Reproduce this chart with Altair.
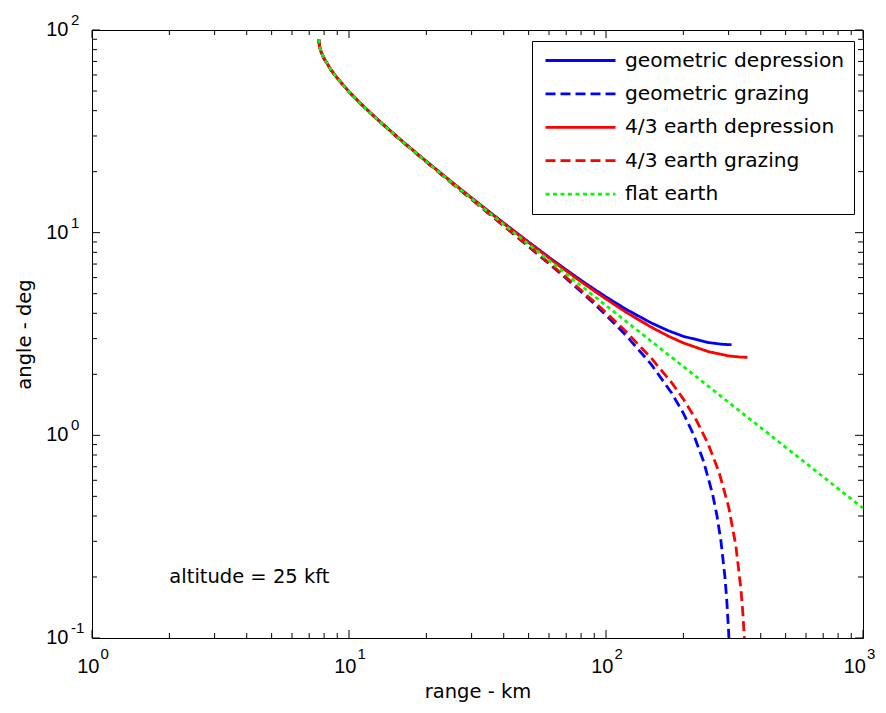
import altair as alt
import pandas as pd

# ---------------- data ----------------
series_names = ["geometric depression", "geometric grazing",
                "4/3 earth depression", "4/3 earth grazing", "flat earth"]
series_colors = ["#0000ff", "#0000ff", "#ff0000", "#ff0000", "#00ff00"]
series_dashes = [[1, 0], [10, 5], [1, 0], [10, 5], [4, 3.5]]

geo_dep_range = [7.62, 7.7, 7.8, 8, 8.5, 9, 10, 11, 12, 13, 15, 17, 20, 25, 30, 35, 40,
                 50, 60, 70, 80, 90, 100, 120, 150, 175, 200, 250, 280, 300, 308]
geo_dep_angle = [90, 81.73, 77.67, 72.27, 63.71, 57.87, 49.67, 43.88, 39.46, 35.92, 30.59,
                 26.70, 22.48, 17.85, 14.84, 12.73, 11.16, 8.99, 7.56, 6.56, 5.82, 5.26,
                 4.82, 4.18, 3.585, 3.281, 3.08, 2.87, 2.817, 2.803, 2.801]

geo_graz_range = [7.62, 7.7, 7.8, 8, 8.5, 9, 10, 11, 12, 13, 15, 17, 20, 25, 30, 35, 40,
                  50, 60, 70, 80, 90, 100, 120, 150, 180, 200, 220, 240, 260, 270, 280,
                  290, 295, 300, 302]
geo_graz_angle = [90, 81.7, 77.6, 72.2, 63.68, 57.83, 49.6, 43.82, 39.39, 35.84, 30.47,
                  26.56, 22.31, 17.64, 14.58, 12.42, 10.80, 8.54, 7.03, 5.94, 5.11, 4.454,
                  3.92, 3.10, 2.24, 1.618, 1.285, 0.9965, 0.741, 0.511, 0.404, 0.301,
                  0.2024, 0.1544, 0.1072, 0.0886]

e43_dep_range = [7.62, 7.7, 7.8, 8, 8.5, 9, 10, 11, 12, 13, 15, 17, 20, 25, 30, 35, 40,
                 50, 60, 70, 80, 90, 100, 120, 150, 175, 200, 250, 300, 330, 355]
e43_dep_angle = [90, 81.73, 77.67, 72.27, 63.71, 57.86, 49.66, 43.87, 39.45, 35.91, 30.58,
                 26.68, 22.46, 17.83, 14.81, 12.69, 11.11, 8.93, 7.50, 6.48, 5.73, 5.159,
                 4.71, 4.04, 3.417, 3.085, 2.857, 2.589, 2.466, 2.435, 2.426]

e43_graz_range = [7.62, 7.7, 7.8, 8, 8.5, 9, 10, 11, 12, 13, 15, 17, 20, 25, 30, 35, 40,
                  50, 60, 70, 80, 90, 100, 120, 150, 180, 200, 225, 250, 275, 300, 320,
                  335, 340, 345, 347]
e43_graz_angle = [90, 81.7, 77.6, 72.22, 63.69, 57.84, 49.61, 43.83, 39.40, 35.85, 30.49,
                  26.58, 22.33, 17.67, 14.62, 12.46, 10.85, 8.60, 7.10, 6.015, 5.197, 4.555,
                  4.034, 3.237, 2.407, 1.820, 1.510, 1.183, 0.904, 0.661, 0.444, 0.286,
                  0.174, 0.138, 0.1026, 0.0886]

flat_range = [7.62, 7.7, 7.8, 8, 8.5, 9, 10, 11, 12, 13, 15, 17, 20, 25, 30, 35, 40,
              50, 60, 70, 80, 90, 100, 120, 150, 175, 200, 250, 300, 400, 500, 600,
              700, 800, 1000]
flat_angle = [90, 81.73, 77.67, 72.26, 63.70, 57.85, 49.64, 43.85, 39.42, 35.88, 30.53,
              26.63, 22.40, 17.75, 14.71, 12.575, 10.98, 8.767, 7.297, 6.249, 5.466, 4.857,
              4.370, 3.641, 2.912, 2.496, 2.184, 1.747, 1.455, 1.092, 0.873, 0.728,
              0.624, 0.546, 0.437]

x_tick_vals = [1, 10, 100, 1000]
x_tick_exp = ["0", "1", "2", "3"]
y_tick_vals = [0.1, 1, 10, 100]
y_tick_exp = ["-1", "0", "1", "2"]
x_minor = [2, 3, 4, 5, 6, 7, 8, 9, 20, 30, 40, 50, 60, 70, 80, 90,
           200, 300, 400, 500, 600, 700, 800, 900]
y_minor = [0.2, 0.3, 0.4, 0.5, 0.6, 0.7, 0.8, 0.9, 2, 3, 4, 5, 6, 7, 8, 9,
           20, 30, 40, 50, 60, 70, 80, 90]

annotation_text = ["altitude = 25 kft"]
annotation_x = [2]
annotation_y = [0.2]

# ---------------- chart ----------------
W, H = 771, 608
TXT_FONT = "DejaVu Sans"
NUM_FONT = "Liberation Sans"

xscale = alt.Scale(type="log", domain=[1, 1000], nice=False)
yscale = alt.Scale(type="log", domain=[0.1, 100], nice=False)
xaxis = alt.Axis(title="range - km", labels=False, ticks=False, domain=False, grid=False,
                 titlePadding=44, titleFont=TXT_FONT, titleFontSize=19.5,
                 titleFontWeight="normal", titleColor="black")
yaxis = alt.Axis(title="angle - deg", labels=False, ticks=False, domain=False, grid=False,
                 titlePadding=58, titleFont=TXT_FONT, titleFontSize=19.5,
                 titleFontWeight="normal", titleColor="black")


def X(field):
    return alt.X(f"{field}:Q", scale=xscale, axis=xaxis)


def Y(field):
    return alt.Y(f"{field}:Q", scale=yscale, axis=yaxis)


leg = alt.Legend(title=None, orient="none", legendX=440, legendY=11, direction="vertical",
                 symbolType="stroke", symbolSize=4900, symbolStrokeWidth=2.8,
                 symbolOffset=3,
                 clipHeight=21, rowPadding=12.4, padding=9,
                 labelFont=TXT_FONT, labelFontSize=20.2, labelColor="black",
                 labelOffset=8, labelLimit=400,
                 strokeColor="black", fillColor="white")
color = alt.Color("series:N", scale=alt.Scale(domain=series_names, range=series_colors),
                  sort=series_names, legend=leg)
dash = alt.StrokeDash("series:N", scale=alt.Scale(domain=series_names, range=series_dashes),
                      sort=series_names, legend=leg)

series_data = [
    (series_names[0], geo_dep_range, geo_dep_angle),
    (series_names[1], geo_graz_range, geo_graz_angle),
    (series_names[2], e43_dep_range, e43_dep_angle),
    (series_names[3], e43_graz_range, e43_graz_angle),
    (series_names[4], flat_range, flat_angle),
]
lines = []
for name, rr, aa in series_data:
    df = pd.DataFrame({"range": rr, "angle": aa, "series": name})
    lines.append(
        alt.Chart(df).mark_line(strokeWidth=2.8, clip=True, strokeCap="butt")
        .encode(x=X("range"), y=Y("angle"), color=color, strokeDash=dash)
    )

# inward ticks on all four sides
MAJ, MIN = 8, 5
xmaj = pd.DataFrame({"v": x_tick_vals})
xmin = pd.DataFrame({"v": x_minor})
ymaj = pd.DataFrame({"v": y_tick_vals})
ymin = pd.DataFrame({"v": y_minor})
ticks = []
for d, L in [(xmaj, MAJ), (xmin, MIN)]:
    ticks.append(alt.Chart(d).mark_rule(color="black", strokeWidth=1)
                 .encode(x=X("v"), y=alt.value(H), y2=alt.value(H - L)))
    ticks.append(alt.Chart(d).mark_rule(color="black", strokeWidth=1)
                 .encode(x=X("v"), y=alt.value(0), y2=alt.value(L)))
for d, L in [(ymaj, MAJ), (ymin, MIN)]:
    ticks.append(alt.Chart(d).mark_rule(color="black", strokeWidth=1)
                 .encode(y=Y("v"), x=alt.value(0), x2=alt.value(L)))
    ticks.append(alt.Chart(d).mark_rule(color="black", strokeWidth=1)
                 .encode(y=Y("v"), x=alt.value(W), x2=alt.value(W - L)))

# tick labels 10^n (the last x label is nudged left so it stays on the page)
xlab = pd.DataFrame({"v": x_tick_vals, "e": x_tick_exp})
ylab = pd.DataFrame({"v": y_tick_vals, "e": y_tick_exp})
labels = []
for flt, bdx, edx in [("datum.v < 1000", 7.5, 8.5), ("datum.v >= 1000", 3, 4)]:
    labels.append(
        alt.Chart(xlab).transform_filter(flt)
        .mark_text(text="10", align="right", baseline="alphabetic", dx=bdx,
                   font=NUM_FONT, fontSize=20, color="black")
        .encode(x=X("v"), y=alt.value(H + 35)))
    labels.append(
        alt.Chart(xlab).transform_filter(flt)
        .mark_text(align="left", baseline="alphabetic", dx=edx,
                   font=NUM_FONT, fontSize=15, color="black")
        .encode(x=X("v"), y=alt.value(H + 20.6), text="e:N"))
labels += [
    alt.Chart(ylab).mark_text(text="10", align="right", baseline="middle",
                              font=NUM_FONT, fontSize=20, color="black")
    .encode(y=Y("v"), x=alt.value(-23.5)),
    alt.Chart(ylab).mark_text(align="left", baseline="alphabetic", dy=-5,
                              font=NUM_FONT, fontSize=15, color="black")
    .encode(y=Y("v"), x=alt.value(-21), text="e:N"),
]

ann_df = pd.DataFrame({"x": annotation_x, "y": annotation_y, "t": annotation_text})
ann = (alt.Chart(ann_df).mark_text(align="left", baseline="middle", font=TXT_FONT,
                                   fontSize=19.5, color="black")
       .encode(x=X("x"), y=Y("y"), text="t:N"))

chart = (
    alt.layer(*ticks, *labels, *lines, ann)
    .properties(width=W, height=H,
                autosize=alt.AutoSizeParams(type="none"),
                padding={"left": 84, "top": 22, "right": 15, "bottom": 67},
                background="white")
    .configure_view(stroke="black", strokeWidth=1)
)

chart.save("out.html", embed_options={"renderer": "svg", "actions": False})
